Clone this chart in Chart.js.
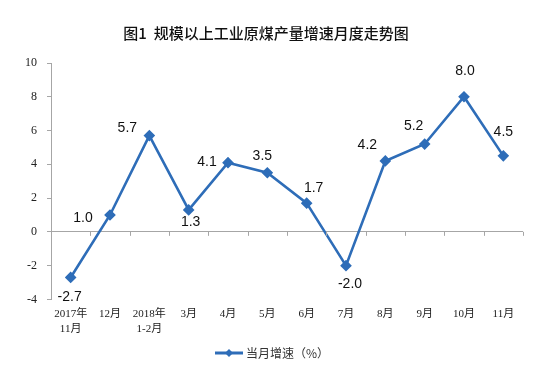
<!DOCTYPE html>
<html><head><meta charset="utf-8">
<script src="https://cdn.jsdelivr.net/npm/chart.js@4/dist/chart.umd.min.js"></script>
<style>html,body{margin:0;padding:0;background:#fff}#wrap{width:556px;height:379px}</style>
</head><body><div id="wrap"><canvas id="c" width="556" height="379"></canvas></div>
<script>
const categories = [["2017年","11月"],"12月",["2018年","1-2月"],"3月","4月","5月","6月","7月","8月","9月","10月","11月"];
const growth = [-2.7,1.0,5.7,1.3,4.1,3.5,1.7,-2.0,4.2,5.2,8.0,4.5];
const yTicks = [-4,-2,0,2,4,6,8,10];
const seriesName = "当月增速（%）";
const titleText = "图1  规模以上工业原煤产量增速月度走势图";
// label placement relative to each point (dx, dy in px)
const labelOffsets = [[-1,20],[-27,3],[-22,-7],[2,12],[-21,0],[-5,-17],[7,-15],[4,19],[-18,-16],[-11,-18],[1,-26],[0,-24]];

const COLOR = '#2E6DB8';
const AXIS = '#A6A6A6';

const extras = {
  id:'extras',
  afterDatasetsDraw(chart){
    const ctx = chart.ctx;
    const xs = chart.scales.x, ys = chart.scales.y;
    const y0 = ys.getPixelForValue(0);
    ctx.save();
    ctx.strokeStyle = AXIS; ctx.lineWidth = 1;
    const n = categories.length;
    const step = xs.getPixelForValue(1) - xs.getPixelForValue(0);
    for(let i=0;i<n;i++){
      const xb = Math.round(xs.getPixelForValue(i) + step/2)+0.5;
      ctx.beginPath(); ctx.moveTo(xb,y0); ctx.lineTo(xb,y0+4); ctx.stroke();
    }
    ctx.fillStyle = '#111';
    ctx.font = '14px "Liberation Sans", Arial, sans-serif';
    ctx.textAlign='center'; ctx.textBaseline='middle';
    const meta = chart.getDatasetMeta(0);
    meta.data.forEach((pt,i)=>{
      const o = labelOffsets[i];
      ctx.fillText(growth[i].toFixed(1), pt.x+o[0], pt.y+o[1]);
    });
    ctx.fillStyle = '#111';
    ctx.font = '500 15px "Noto Sans CJK SC", sans-serif';
    ctx.fillText(titleText, 266, 33);
    const ly = 353;
    ctx.strokeStyle = COLOR; ctx.lineWidth = 3;
    ctx.beginPath(); ctx.moveTo(215,ly); ctx.lineTo(243,ly); ctx.stroke();
    ctx.fillStyle = COLOR;
    ctx.beginPath(); ctx.moveTo(229,ly-4); ctx.lineTo(233,ly); ctx.lineTo(229,ly+4); ctx.lineTo(225,ly); ctx.closePath(); ctx.fill();
    ctx.fillStyle = '#333';
    ctx.font = '12px "Noto Sans CJK SC", sans-serif';
    ctx.textAlign='left';
    ctx.fillText(seriesName, 246, ly);
    ctx.restore();
  }
};

new Chart(document.getElementById('c'), {
  type:'line',
  data:{ labels: categories, datasets:[{ label: seriesName, data: growth,
    borderColor: COLOR, backgroundColor: COLOR, borderWidth: 2.6,
    pointStyle:'rectRot', pointRadius:4, pointHoverRadius:4, tension:0 }]},
  options:{
    responsive:false, animation:false, devicePixelRatio:1,
    layout:{ padding:{ left:15, right:33, top:63, bottom:43 } },
    plugins:{ legend:{display:false}, title:{display:false}, tooltip:{enabled:false} },
    scales:{
      x:{ offset:true,
        grid:{ display:false }, border:{ display:false },
        ticks:{ color:'#222', padding:0, maxRotation:0, autoSkip:false,
          font:{ family:'"Liberation Serif", "Noto Sans CJK SC", serif', size:11, lineHeight:1.3 } } },
      y:{ min:-4, max:10,
        afterBuildTicks(scale){ scale.ticks = yTicks.map(v=>({value:v})); },
        grid:{ color: c => c.tick && c.tick.value===0 ? AXIS : 'rgba(0,0,0,0)', tickColor: AXIS, tickLength:4, drawTicks:true },
        border:{ color: AXIS, width:1 },
        ticks:{ color:'#222', padding:10, font:{ family:'"Liberation Serif", serif', size:12 } } }
    }
  },
  plugins:[extras]
});
</script></body></html>
